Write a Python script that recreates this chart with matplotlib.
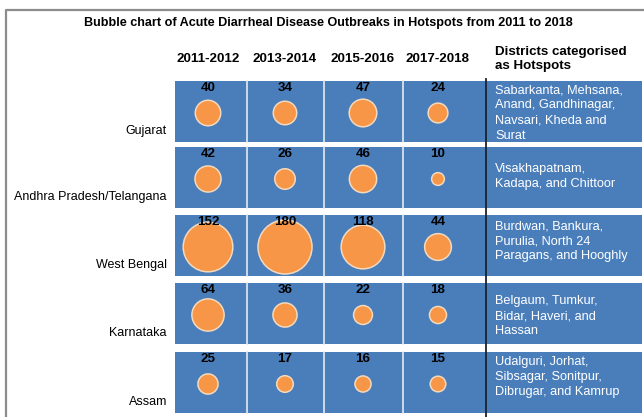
import matplotlib
matplotlib.use("Agg")
import matplotlib.pyplot as plt
from matplotlib.patches import Rectangle

plt.rcParams['font.family'] = ['Liberation Sans', 'DejaVu Sans']

title = "Bubble chart of Acute Diarrheal Disease Outbreaks in Hotspots from 2011 to 2018"
periods = ["2011-2012", "2013-2014", "2015-2016", "2017-2018"]
states = ["Gujarat", "Andhra Pradesh/Telangana", "West Bengal", "Karnataka", "Assam"]
outbreaks = [
    [40, 34, 47, 24],
    [42, 26, 46, 10],
    [152, 180, 118, 44],
    [64, 36, 22, 18],
    [25, 17, 16, 15],
]
districts_header = "Districts categorised\nas Hotspots"
districts = [
    "Sabarkanta, Mehsana,\nAnand, Gandhinagar,\nNavsari, Kheda and\nSurat",
    "Visakhapatnam,\nKadapa, and Chittoor",
    "Burdwan, Bankura,\nPurulia, North 24\nParagans, and Hooghly",
    "Belgaum, Tumkur,\nBidar, Haveri, and\nHassan",
    "Udalguri, Jorhat,\nSibsagar, Sonitpur,\nDibrugar, and Kamrup",
]

# layout (pixels)
W, H = 644, 417
BLUE = "#4a7ebb"
ORANGE = "#f79646"
row_tops = [81, 147, 215, 283, 352]
row_h = 61
col_bounds = [175, 247, 324, 403, 486, 642]
col_centers = [208, 285, 363, 438]
text_offsets = [3, 16, 5, 12, 4]

fig = plt.figure(figsize=(W / 100, H / 100), dpi=100)
ax = fig.add_axes([0, 0, 1, 1])
ax.set_xlim(0, W)
ax.set_ylim(H, 0)
ax.axis("off")

# outer frame
ax.plot([6, 6, W], [H, 10, 10], color="#8c8c8c", lw=1.6, solid_capstyle="butt")

ax.text(328, 23, title, ha="center", va="center", fontsize=9.1, fontweight="bold")

for j, p in enumerate(periods):
    ax.text(col_centers[j], 59, p, ha="center", va="center", fontsize=9.6, fontweight="bold")
ax.text(495, 59, districts_header, ha="left", va="center", fontsize=9.6,
        fontweight="bold", linespacing=1.15)

for i, st in enumerate(states):
    top = row_tops[i]
    ax.add_patch(Rectangle((col_bounds[0], top), col_bounds[-1] - col_bounds[0], row_h,
                           facecolor=BLUE, edgecolor="none", zorder=1))
    for xb in col_bounds[1:4]:
        ax.plot([xb, xb], [top, top + row_h], color="#e4e9f0", lw=1.2, zorder=2)
    ax.text(167, top + row_h - 11, st, ha="right", va="center", fontsize=9.0)
    ys = [top + 32] * len(periods)
    ax.scatter(col_centers, ys, s=[8.4 * v for v in outbreaks[i]], color=ORANGE,
               edgecolors="#f3d9bd", linewidths=1.1, zorder=3)
    for j, v in enumerate(outbreaks[i]):
        ax.text(col_centers[j], top + 7, str(v), ha="center", va="center",
                fontsize=9.6, fontweight="bold", zorder=4)
    ax.text(495, top + text_offsets[i], districts[i], ha="left", va="top",
            fontsize=9.2, color="white", linespacing=1.36, zorder=4)

ax.plot([486, 486], [79, H], color="#1a2330", lw=1.3, zorder=5)

fig.savefig("out.png", dpi=100)
